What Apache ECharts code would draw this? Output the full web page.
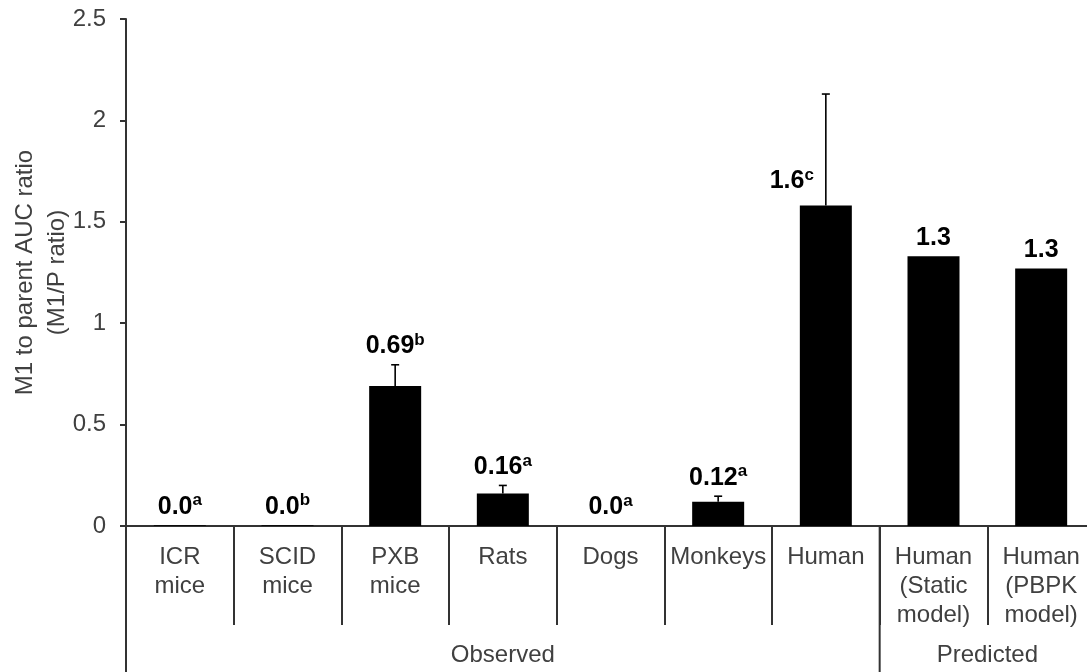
<!DOCTYPE html>
<html><head><meta charset="utf-8">
<script src="https://cdn.jsdelivr.net/npm/echarts@6/dist/echarts.min.js"></script>
<style>html,body{margin:0;padding:0;background:#fff}#c{width:1087px;height:672px}</style>
</head><body><div id="c"></div>
<script>
const categories = ['ICR\nmice','SCID\nmice','PXB\nmice','Rats','Dogs','Monkeys','Human','Human\n(Static\nmodel)','Human\n(PBPK\nmodel)'];
const values = [0.004, 0.004, 0.69, 0.16, 0, 0.12, 1.58, 1.33, 1.27];
const errorHigh = [null, null, 0.795, 0.20, null, 0.147, 2.13, null, null];
const labelText = ['0.0','0.0','0.69','0.16','0.0','0.12','1.6','1.3','1.3'];
const labelSup = ['a','b','b','a','a','a','c','',''];
const groupNames = ['Observed','Predicted'];
const groupStart = [0, 7];
const groupEnd = [7, 9];
const yMin = 0, yMax = 2.5, yStep = 0.5;

const FONT = '"Liberation Sans", Arial, sans-serif';
const TXT = '#404040';
const AX = '#333';

const chart = echarts.init(document.getElementById('c'), null, {renderer: 'canvas'});

const errData = [];
errorHigh.forEach((h, i) => { if (h != null) errData.push([i, values[i], h]); });
const labData = labelText.map((t, i) => [i, Math.max(values[i], errorHigh[i] || 0), values[i], errorHigh[i] == null ? values[i] : errorHigh[i]]);
const grpData = groupStart.map((s, i) => [s, groupEnd[i], 0]);

const option = {
  animation: false,
  grid: {left: 126, top: 19, right: -8, bottom: 146, outerBoundsMode: 'none', containLabel: false},
  xAxis: {
    type: 'category', data: categories, boundaryGap: true,
    axisLine: {lineStyle: {color: AX, width: 2}},
    axisTick: {show: true, interval: 0, length: 99, alignWithLabel: false, lineStyle: {color: AX, width: 2}},
    axisLabel: {interval: 0, margin: 17, fontFamily: FONT, fontSize: 24, lineHeight: 29, color: TXT}
  },
  yAxis: {
    type: 'value', min: yMin, max: yMax, interval: yStep,
    axisLine: {show: true, lineStyle: {color: AX, width: 2}},
    axisTick: {show: true, length: 6, lineStyle: {color: AX, width: 2}},
    splitLine: {show: false},
    axisLabel: {margin: 20, fontFamily: FONT, fontSize: 24, color: TXT, formatter: v => String(v)},
    name: 'M1 to parent AUC ratio\n(M1/P ratio)', nameLocation: 'middle', nameGap: 53, nameMoveOverlap: false,
    nameTextStyle: {fontFamily: FONT, fontSize: 24, lineHeight: 32, color: TXT}
  },
  series: [
    {type: 'bar', data: values, barWidth: 52, itemStyle: {color: '#000'}, silent: true},
    {
      type: 'custom', data: errData, encode: {x: 0, y: [1, 2]}, silent: true,
      renderItem(params, api) {
        const x = api.value(0);
        const lo = api.coord([x, api.value(1)]);
        const hi = api.coord([x, api.value(2)]);
        const cap = 8;
        return {type: 'group', children: [
          {type: 'line', shape: {x1: lo[0], y1: lo[1], x2: hi[0], y2: hi[1]}, style: {stroke: '#000', lineWidth: 1.6}},
          {type: 'line', shape: {x1: hi[0] - cap / 2, y1: hi[1], x2: hi[0] + cap / 2, y2: hi[1]}, style: {stroke: '#000', lineWidth: 1.6}}
        ]};
      }
    },
    {
      type: 'custom', data: labData, encode: {x: 0, y: 1}, silent: true,
      renderItem(params, api) {
        const i = api.value(0);
        const top = api.coord([i, api.value(1)]);
        const barTop = api.coord([i, api.value(2)]);
        const side = api.value(3) - api.value(2) > 0.3;
        const txt = '{m|' + labelText[i] + '}' + (labelSup[i] ? '{s|' + labelSup[i] + '}' : '');
        return {
          type: 'text',
          x: side ? top[0] - 12 : top[0],
          y: side ? barTop[1] - 12 : top[1] - 6,
          style: {
            text: txt, align: side ? 'right' : 'center', verticalAlign: 'bottom',
            rich: {
              m: {fontFamily: FONT, fontWeight: 'bold', fontSize: 25, lineHeight: 27, fill: '#000', verticalAlign: 'bottom'},
              s: {fontFamily: FONT, fontWeight: 'bold', fontSize: 17, lineHeight: 17, fill: '#000', verticalAlign: 'top'}
            }
          }
        };
      }
    },
    {
      type: 'custom', data: grpData, encode: {x: 0, y: 2}, silent: true,
      renderItem(params, api) {
        const idx = params.dataIndex;
        const s = api.value(0), e = api.value(1);
        const bw = api.size([1, 0])[0];
        const p0 = api.coord([s, 0]);
        const p1 = api.coord([e - 1, 0]);
        const x0 = p0[0] - bw / 2;
        const x1 = p1[0] + bw / 2;
        const y0 = p0[1];
        const H = api.getHeight();
        return {type: 'group', children: [
          {type: 'line', shape: {x1: x0, y1: y0, x2: x0, y2: H}, style: {stroke: AX, lineWidth: 2}},
          {type: 'text', x: (x0 + x1) / 2, y: y0 + 129, style: {text: groupNames[idx], align: 'center', verticalAlign: 'middle', fontFamily: FONT, fontSize: 24, fill: TXT}}
        ]};
      }
    }
  ]
};
chart.setOption(option);
</script>
</body></html>
